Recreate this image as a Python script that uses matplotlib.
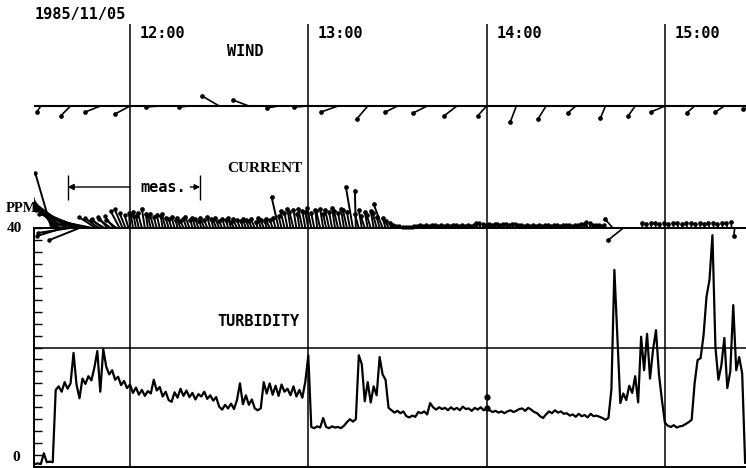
import numpy as np
import matplotlib
matplotlib.use('Agg')
import matplotlib.pyplot as plt
from matplotlib.collections import LineCollection
from matplotlib.ticker import MultipleLocator

# chart record of 1985/11/05, time in minutes after 12:00
W, H = 746, 468
PX_PER_MIN = 178.3 / 60.0   # chart speed, one hour = 178.3 px

hour_min = [0, 60, 120, 180]
hour_lbl = ['12:00', '13:00', '14:00', '15:00']
meas_span = (-21.0, 23.6)

# wind sticks, every 10 min (u, v in chart units)
wind_t = [-30, -20, -10, 0, 10, 20, 30, 40, 50, 60, 70, 80, 90, 100, 110,
          120, 130, 140, 150, 160, 170, 180, 190, 200, 210]
wind_u = [-4, -10, -15, -15, -14, -10, -17, -16, -12, -14, -17, -11, -12,
          -14, -13, -9, -6, -8, -8, -5, -7, -14, -8, -9, -11]
wind_v = [-6, -10, -6, -8, -1, -1, 10, 6, -2, -1, -6, -13, -6, -7, -10,
          -10, -16, -13, -7, -12, -10, -6, -7, -6, -3]

# current sticks
cur_early_t = [-26.5, -25.5, -24.5, -23.5, -22.5, -22, -21, -20, -19.5, -18.5,
               -17, -16.5, -15.5, -14.5, -13.5, -12.5, -11.5, -10.5, -9.5,
               -8.5, -7.5, -6.5, -5.5, -4.5, -3.5, -2.5, -1.5, -0.5, 0]
cur_early_u = [-16, -22, -27, -30, -26, -32, -36, -33, -40, -42, -30, -45, -45,
               -38, -36, -30, -17, -14, -10, -14, -10, -12, -9, -11, -9, -8,
               -6, -4, -1]
cur_early_v = [55, 30, 27, 24, -8, 22, 27, -5, 24, 20, -12, 18, 14, 10, 4, 6,
               11, 10, 9, 8, 11, 9, 12, 8, 17, 19, 15, 13, 15]

# 12:01 .. 13:28, one per minute
cur_fence_v = [13, 16, 12, 15, 19, 14, 12, 14, 11, 13, 12, 14, 10,
               9, 11, 8, 10, 7, 9, 11, 8, 10, 9, 7, 10, 8, 11, 9, 8, 10, 7,
               9, 8, 10, 6, 9, 8, 7, 9, 8,
               7, 9, 6, 10, 8, 7, 9, 8, 10, 31,
               12, 17, 15, 19, 16, 18, 14, 19, 17, 16, 20, 15, 18, 17, 19, 14,
               18, 16, 20, 17, 15, 19, 18, 16,
               41, 37, 14, 18, 12, 16, 13, 17, 15, 11, 24, 10, 7, 5]
cur_fence_u = [-2, -3, -3, -4, -3, -2, -3, -4, -3, -3, -2, -4, -3,
               -3, -3, -2, -4, -3, -3, -4, -2, -3, -3, -2, -4, -3, -3, -2, -3,
               -4, -3, -3, -2, -3, -3, -4, -3, -2, -3, -3,
               -3, -4, -2, -3, -3, -2, -4, -3, -3, -7,
               -3, -4, -3, -3, -4, -3, -2, -4, -3, -3, -4, -3, -2, -4, -3, -3,
               -4, -3, -3, -4, -3, -3, -4, -3,
               -7, -1, -4, -3, -4, -3, -4, -3, -4, -3, -9, -3, -3, -2]

# 13:29 .. 14:40, one per minute
cur_calm_v = [3, 2, 2, 1, 1, 1, 1, 2, 2, 3, 2, 3, 2, 3, 3, 2,
              3, 2, 3, 2, 3, 3, 2, 3, 2, 3, 2, 3, 5, 5, 4, 3,
              4, 3, 4, 4, 3, 4, 4, 3, 4, 4, 3, 3, 2, 3, 2, 3,
              2, 3, 2, 3, 3, 2, 3, 3, 2, 3, 3, 3, 2, 3, 3, 4,
              4, 6, 5, 3, 3, 3, 2, 3]
cur_calm_u = [-1, -1, -1, 0, 0, 0, 0, -1, -1, -1, -1, -1, -1, -1, -1, -1,
              -1, -1, -1, -1, -1, -1, -1, -1, -1, -1, -1, -1, -2, -2, -1, -1,
              -1, -1, -1, -1, -1, -1, -1, -1, -1, -1, -1, -1, -1, -1, -1, -1,
              -1, -1, -1, -1, -1, -1, -1, -1, -1, -1, -1, -1, -1, -1, -1, -1,
              -1, -2, -1, -1, -1, -1, -1, -1]

cur_late_t = [162.5, 166, 172.5, 174, 175.5, 177, 178.5, 180, 181.5, 183,
              184.5, 186, 187.5, 189, 190.5, 192, 193.5, 195, 196.5, 198,
              199.5, 201, 202.5, 203.5]
cur_late_u = [-8, -15, -1, -1, -1, -1, -1, -1, -1, -1, -1, -1, -1, -1, -1,
              -1, -1, -1, -1, -1, -1, -1, -1, -1]
cur_late_v = [9, -12, 5, 4, 5, 5, 4, 5, 4, 5, 5, 4, 5, 5, 4, 5, 4, 5, 5, 4,
              5, 5, 6, -8]

# turbidity (ppm), one reading per minute from 11:28
turb_t0 = -32
turb_ppm = [0.5, 0.6, 0.5, 2.3, 0.8, 0.9, 0.8,
            12.9, 13.5, 12.6, 14.2, 13.1, 14.0, 19.1, 13.8, 11.5, 14.8,
            13.9, 15.2, 14.5, 16.6, 19.4, 12.6, 19.7, 16.8, 15.5, 16.2,
            14.6, 15.1, 13.7, 14.4, 13.2, 13.8,
            12.4, 13.3, 12.1, 12.9, 11.9, 12.7, 12.3, 14.6, 12.8, 13.4,
            11.8, 12.6, 11.2, 10.9, 12.5, 11.6, 13.1, 11.9, 12.8, 11.7,
            12.4, 11.3, 12.2, 11.8, 12.6, 11.4, 12.0, 11.1, 11.7, 10.1,
            9.6, 10.4, 9.8, 10.6, 9.7, 11.2, 14.0, 10.5, 12.0, 10.4,
            11.3, 9.8, 9.5, 9.8, 14.2, 12.3, 14.0, 12.1, 13.6, 11.9,
            13.8, 12.6, 13.1, 12.0, 13.5, 11.8, 12.9, 11.6, 14.3, 18.7,
            6.7, 6.5, 6.8, 6.6, 8.2, 6.7, 6.5, 6.8, 6.6, 6.7,
            6.5, 6.9, 7.5, 8.0, 7.6, 8.0, 18.7, 17.2, 11.0, 14.2,
            10.8, 13.5, 12.0, 18.4, 15.5, 14.6, 9.9, 9.5, 9.1, 9.4,
            9.0, 9.3, 8.5, 8.3, 8.6, 8.4, 9.2, 9.0, 9.3, 8.8,
            10.7, 10.0, 9.6, 10.0, 9.7, 9.9, 9.5, 10.0, 9.6, 9.9,
            9.5, 10.1, 9.7, 9.8, 9.4, 9.9, 9.6, 10.0, 9.5, 9.8,
            9.5, 9.2, 9.4, 9.1, 9.3, 9.0, 9.3, 9.5, 9.2, 9.4,
            9.7, 9.8, 9.4, 9.9, 9.6, 9.2, 9.0, 8.5, 8.2, 8.8,
            9.3, 9.0, 9.5, 9.1, 9.3, 8.9, 9.0, 8.6, 8.8, 8.4,
            8.9, 8.5, 8.7, 8.3, 8.9, 8.5, 8.6, 8.4, 8.2, 7.9,
            8.2, 13.0, 33.0, 22.0, 10.7, 12.3, 11.2, 13.6, 12.4, 15.2,
            10.8, 21.8, 16.2, 22.3, 14.8, 19.6, 22.9, 15.5, 11.2, 7.4,
            6.9, 6.7, 7.0, 6.6, 6.8, 6.9, 7.2, 7.5, 7.9, 14.0,
            17.9, 18.2, 22.0, 28.5, 31.3, 38.8, 20.1, 14.6, 17.0, 21.6,
            13.2, 16.0, 27.1, 16.2, 18.4, 15.7, 0.7]
mark_t = [120, 120]
mark_ppm = [11.7, 9.9]

MONO = 'DejaVu Sans Mono'
SERIF = 'Liberation Serif'


def box(left, top, right, bottom):
    return [left / W, 1 - bottom / H, (right - left) / W, (bottom - top) / H]


def sticks(ax, t, u, v, ms, lw=1.0):
    t = np.asarray(t, float)
    u = np.asarray(u, float)
    v = np.asarray(v, float)
    tx = t + u / PX_PER_MIN
    segs = np.stack([np.column_stack([t, np.zeros_like(t)]),
                     np.column_stack([tx, v])], axis=1)
    ax.add_collection(LineCollection(segs, colors='k', linewidths=lw))
    ax.plot(tx, v, 'o', ms=ms, color='k', mew=0)


x_lo = (34 - 130) / PX_PER_MIN
x_hi = (746 - 130) / PX_PER_MIN

fig = plt.figure(figsize=(W / 100, H / 100), dpi=100)

bg = fig.add_axes([0, 0, 1, 1])
bg.set_xlim((0 - 130) / PX_PER_MIN, x_hi)
bg.set_ylim(H, 0)
bg.axis('off')
bg.vlines(hour_min, 24, H, colors='k', lw=1.1)
for h, lbl in zip(hour_min, hour_lbl):
    bg.annotate(lbl, (h, 33), xytext=(7, 0), textcoords='offset points',
                ha='left', va='center', family=MONO, weight='bold', size=11)

# measurement span marker
bg.vlines(meas_span, 175, 200, colors='k', lw=1.0)
bg.annotate('', xy=(meas_span[0], 187), xytext=(0, 187),
            arrowprops=dict(arrowstyle='-|>', color='k', lw=1.0,
                            mutation_scale=9, shrinkA=0, shrinkB=0))
bg.annotate('', xy=(meas_span[1], 187), xytext=(20.3, 187),
            arrowprops=dict(arrowstyle='-|>', color='k', lw=1.0,
                            mutation_scale=8, shrinkA=0, shrinkB=0))

# wind panel
ax_w = fig.add_axes(box(34, 70, 746, 140))
ax_w.set_xlim(x_lo, x_hi)
ax_w.set_ylim(-34, 36)
ax_w.axis('off')
ax_w.axhline(0, color='k', lw=1.5)
sticks(ax_w, wind_t, wind_u, wind_v, ms=3.4, lw=1.2)

# current panel
ax_c = fig.add_axes(box(34, 120, 746, 250))
ax_c.set_xlim(x_lo, x_hi)
ax_c.set_ylim(-22, 108)
ax_c.axis('off')
fence_t = np.arange(1, 1 + len(cur_fence_v))
calm_t = np.arange(89, 89 + len(cur_calm_v))
sticks(ax_c, cur_early_t, cur_early_u, cur_early_v, ms=3.2, lw=1.4)
sticks(ax_c, fence_t, cur_fence_u, cur_fence_v, ms=3.4, lw=1.4)
sticks(ax_c, calm_t, cur_calm_u, cur_calm_v, ms=3.2, lw=1.6)
sticks(ax_c, cur_late_t, cur_late_u, cur_late_v, ms=3.4, lw=1.2)

# turbidity panel
ax_t = fig.add_axes(box(34, 228, 746, 467))
ax_t.patch.set_visible(False)
ax_t.set_xlim(x_lo, x_hi)
ax_t.set_ylim(0, 40)
turb_t = np.arange(turb_t0, turb_t0 + len(turb_ppm))
ax_t.plot(turb_t, turb_ppm, color='k', lw=1.6)
ax_t.plot(mark_t, mark_ppm, 'o', color='k', ms=4.5, mew=0)
ax_t.axhline(20, color='k', lw=1.1)
for s in ['left', 'top', 'bottom']:
    ax_t.spines[s].set_linewidth(1.4)
ax_t.spines['right'].set_visible(False)
ax_t.yaxis.set_major_locator(MultipleLocator(2))
ax_t.set_xticks([])
ax_t.tick_params(axis='y', direction='in', length=6, width=1.0,
                 labelleft=False)
ax_t.text(-0.017, 40, '40', transform=ax_t.get_yaxis_transform(), ha='right',
          va='center', family=SERIF, weight='bold', size=11)
ax_t.text(-0.02, 0.5, '0', transform=ax_t.get_yaxis_transform(), ha='right',
          va='bottom', family=SERIF, weight='bold', size=11)

# titles
fig.text(35 / W, 1 - 15 / H, '1985/11/05', family=MONO, weight='bold',
         size=11, ha='left', va='center')
fig.text(227 / W, 1 - 52 / H, 'WIND', family=MONO, weight='bold',
         size=11, ha='left', va='center')
fig.text(227 / W, 1 - 168 / H, 'CURRENT', family=SERIF, weight='bold',
         size=11, ha='left', va='center')
fig.text(140 / W, 1 - 192 / H, 'meas.', family=MONO, weight='bold',
         size=11, ha='left', va='baseline')
fig.text(217 / W, 1 - 322 / H, 'TURBIDITY', family=MONO, weight='bold',
         size=11, ha='left', va='center')
fig.text(6 / W, 1 - 208 / H, 'PPM', family=SERIF, weight='bold',
         size=10.5, ha='left', va='center')

fig.savefig('out.png', dpi=100)
